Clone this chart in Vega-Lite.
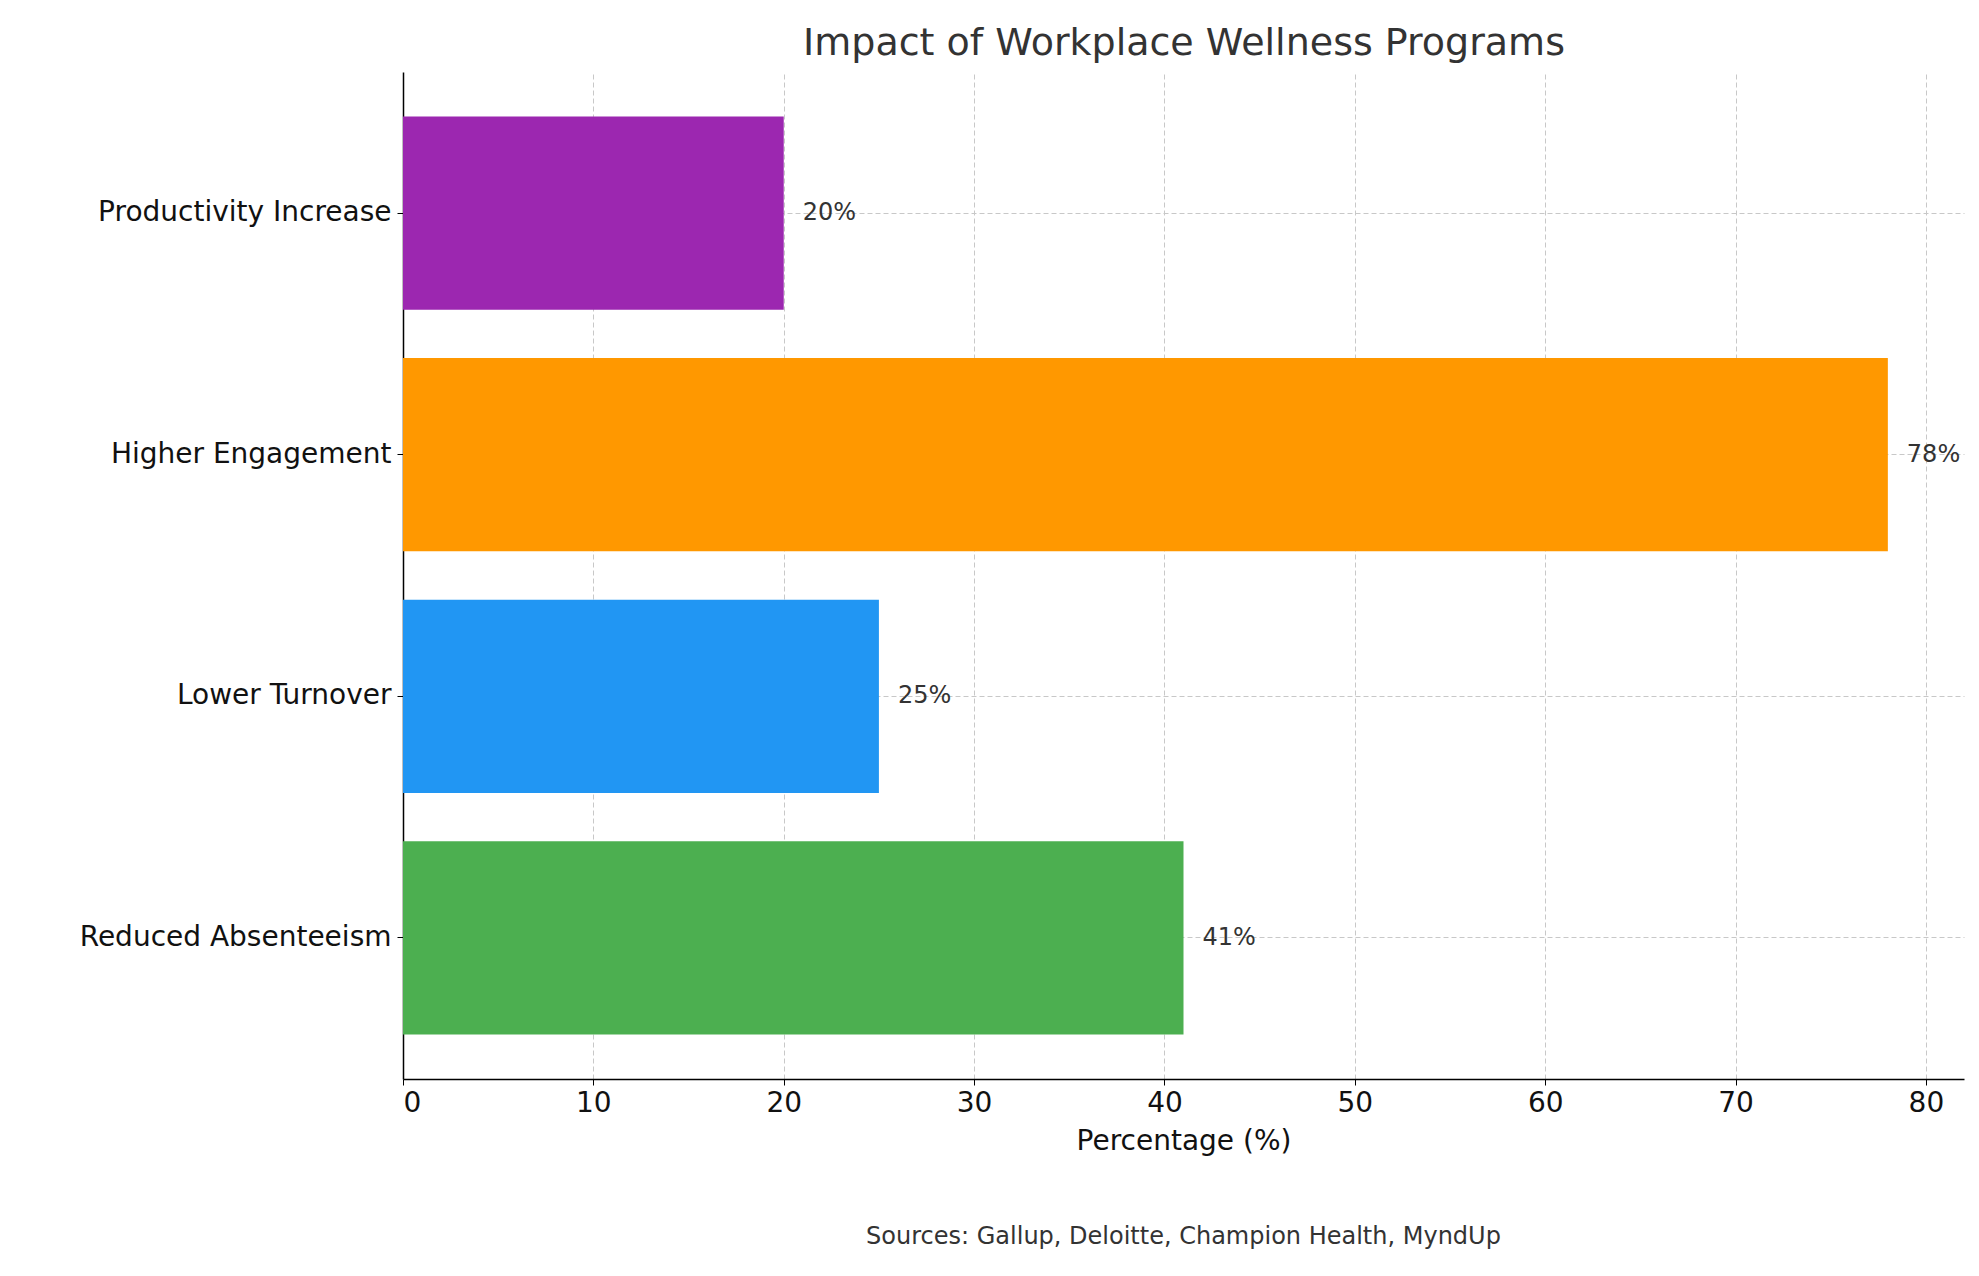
{
  "$schema": "https://vega.github.io/schema/vega-lite/v6.json",
  "autosize": "none",
  "width": 1561,
  "height": 1007,
  "padding": {"left": 403, "top": 72, "right": 15, "bottom": 197},
  "background": "white",
  "title": {"text": "Sources: Gallup, Deloitte, Champion Health, MyndUp", "orient": "bottom", "anchor": "middle", "offset": 70, "fontSize": 24, "font": "DejaVu Sans", "fontWeight": "normal", "color": "#333"},
  "data": {"values": [
    {"metric": "Productivity Increase", "pct": 20, "color": "#9C27B0"},
    {"metric": "Higher Engagement", "pct": 78, "color": "#FF9800"},
    {"metric": "Lower Turnover", "pct": 25, "color": "#2196F3"},
    {"metric": "Reduced Absenteeism", "pct": 41, "color": "#4CAF50"}
  ]},
  "encoding": {
    "y": {"field": "metric", "type": "nominal", "sort": null,
      "scale": {"paddingInner": 0.2, "paddingOuter": 0.184},
      "axis": {"title": null, "labelFontSize": 28, "labelLimit": 500, "labelColor": "#111", "labelPadding": 6, "tickSize": 6, "tickColor": "#000", "domainColor": "#000", "domainWidth": 1.5, "grid": true, "gridDash": [5, 3], "gridColor": "#c8c8c8"}}
  },
  "layer": [
    {
      "mark": {"type": "bar"},
      "encoding": {
        "x": {"field": "pct", "type": "quantitative", "scale": {"domain": [0, 82], "nice": false},
          "axis": {"title": "Percentage (%)", "titleFontSize": 28, "titleFontWeight": "normal", "titleColor": "#111", "titlePadding": 10, "labelFontSize": 28, "labelColor": "#111", "labelPadding": 4, "values": [0,10,20,30,40,50,60,70,80], "tickSize": 6, "tickColor": "#000", "domainColor": "#000", "domainWidth": 1.5, "grid": true, "gridDash": [5, 3], "gridColor": "#c8c8c8"}},
        "color": {"field": "color", "type": "nominal", "scale": null}
      }
    },
    {
      "transform": [{"calculate": "datum.pct + '%'", "as": "label"}],
      "mark": {"type": "text", "align": "left", "dx": 19, "fontSize": 24, "color": "#333", "font": "DejaVu Sans"},
      "encoding": {
        "x": {"field": "pct", "type": "quantitative", "scale": {"domain": [0, 82], "nice": false},
          "axis": {"orient": "top", "title": "Impact of Workplace Wellness Programs", "titleFontSize": 38, "titleFontWeight": "normal", "titleColor": "#333", "titlePadding": 10, "labels": false, "ticks": false, "domain": false, "grid": false}},
        "text": {"field": "label", "type": "nominal"},
        "detail": {"field": "metric"}
      }
    }
  ],
  "resolve": {"axis": {"x": "independent"}},
  "config": {"view": {"stroke": null}, "font": "DejaVu Sans"}
}
